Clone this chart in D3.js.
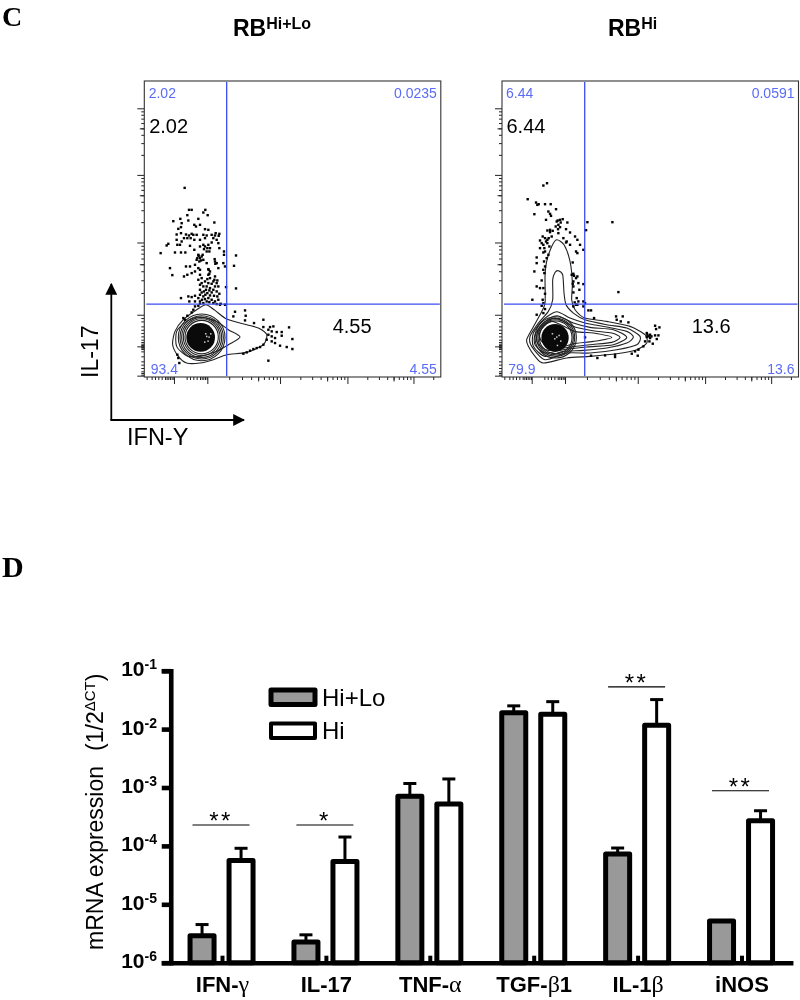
<!DOCTYPE html>
<html><head><meta charset="utf-8">
<script src="https://cdn.jsdelivr.net/npm/d3@7/dist/d3.min.js"></script>
<style>html,body{margin:0;padding:0;background:#fff}svg{display:block;filter:blur(0.35px)}text{font-family:"Liberation Sans",Arial,sans-serif}</style>
</head><body><svg id="c" width="800" height="1000"></svg>
<script>
// ---------- Panel D data ----------
const categories = ["IFN-γ","IL-17","TNF-α","TGF-β1","IL-1β","iNOS"];
const seriesNames = ["Hi+Lo","Hi"];
const hiLoValues = [2.9e-6,2.26e-6,7.1e-4,1.9e-2,7.3e-5,5.2e-6];
const hiLoUpper  = [4.5e-6,3.0e-6,1.17e-3,2.5e-2,9.2e-5,5.2e-6];
const hiValues   = [5.6e-5,5.4e-5,5.2e-4,1.79e-2,1.16e-2,2.7e-4];
const hiUpper    = [9.1e-5,1.42e-4,1.4e-3,2.95e-2,3.2e-2,4.0e-4];
const yTicks = [1e-1,1e-2,1e-3,1e-4,1e-5,1e-6];
const yTickExponents = ["-1","-2","-3","-4","-5","-6"];
const sigCategories = ["IFN-γ","IL-17","IL-1β","iNOS"];
const sigLevels = [2.28e-4,2.28e-4,5.3e-2,8.8e-4];
const sigMarks = ["**","*","**","**"];

// ---------- Panel C data (cytometer channels) ----------
const leftDots = [[254,354],[267,420],[275,420],[316,420],[310,428],[323,436],[262,436],[241,447],[295,447],[220,454],[245,460],[265,452],[343,458],[283,465],[300,465],[288,470],[235,477],[243,472],[243,490],[230,494],[258,494],[267,497],[275,492],[290,495],[315,478],[325,480],[335,495],[347,490],[358,492],[310,495],[320,497],[252,505],[262,505],[272,505],[283,510],[300,510],[315,505],[340,505],[350,510],[230,510],[245,515],[232,525],[240,525],[205,522],[200,527],[182,550],[225,548],[243,548],[256,548],[270,528],[283,540],[300,530],[310,525],[325,525],[335,518],[355,520],[358,535],[312,538],[320,545],[330,535],[372,545],[372,555],[408,557],[295,555],[300,565],[305,560],[290,570],[310,570],[345,575],[350,580],[320,580],[370,580],[375,590],[402,588],[210,595],[217,616],[258,590],[270,590],[285,585],[295,595],[300,600],[325,598],[330,605],[355,595],[252,620],[262,615],[275,610],[285,605],[300,615],[325,615],[330,625],[345,620],[295,630],[305,625],[315,635],[325,640],[340,635],[350,640],[355,650],[300,645],[310,650],[320,650],[330,655],[345,650],[378,652],[408,656],[300,660],[312,665],[322,670],[335,668],[350,665],[358,672],[243,685],[265,680],[275,682],[285,678],[300,675],[310,680],[325,685],[335,690],[345,695],[355,690],[268,695],[285,695],[300,695],[320,695],[360,705],[375,705],[285,710],[295,708],[280,720],[275,728],[250,745],[255,750],[262,738],[405,726],[435,722],[400,740],[437,738],[435,752],[462,760],[490,750],[490,772],[510,772],[520,770],[505,780],[515,785],[530,787],[545,787],[567,773],[505,795],[515,800],[525,805],[545,798],[577,808],[500,810],[515,815],[525,820],[490,825],[480,832],[470,835],[460,838],[450,843],[440,848],[430,852],[505,873],[540,828],[560,832],[577,838],[232,855],[235,865],[238,880],
 [326,600],[328,612],[322,628],[335,642],[343,630],[352,632],[305,640],[318,660],[328,662],[340,660],[305,668],[316,675],[330,677],[342,678],[352,680],[295,685],[306,690],[315,688],[328,697],[340,700],[350,703],[362,702],[300,702],[310,700],[292,565],[298,575],[303,572],[344,568],[346,582],[315,530],[322,535],[328,545],[280,495],[296,558],[308,555],[345,497],[356,498]];
const rightDots = [[160,347],[171,340],[113,388],[138,398],[146,403],[142,405],[165,403],[182,403],[198,418],[133,433],[175,425],[180,432],[183,438],[168,450],[210,450],[218,448],[200,455],[232,458],[205,465],[197,470],[210,472],[180,480],[172,482],[188,483],[228,478],[240,488],[205,490],[158,500],[165,505],[172,510],[185,500],[230,515],[255,500],[262,510],[220,505],[150,512],[155,520],[172,520],[178,530],[150,535],[165,545],[175,555],[140,563],[160,548],[262,550],[270,525],[280,540],[228,518],[240,525],[258,545],[248,578],[140,580],[165,590],[160,600],[133,605],[245,615],[252,618],[262,620],[155,632],[250,635],[265,640],[280,643],[140,650],[150,655],[160,655],[250,650],[268,660],[250,668],[165,672],[260,685],[265,695],[127,690],[155,708],[165,718],[250,710],[258,705],[280,695],[285,700],[160,730],[140,735],[292,457],[367,457],[288,481],[385,667],[295,722],[303,722],[312,745],[378,740],[398,740],[380,750],[392,755],[415,758],[495,768],[508,773],[498,778],[470,790],[480,795],[495,797],[505,797],[470,802],[480,805],[500,808],[465,815],[478,815],[488,822],[460,830],[445,840],[435,845],[425,852],[443,858],[375,855],[375,862],[345,857],[322,865],[303,858],[285,803],
 [203,452],[212,458],[204,478],[180,487],[176,505],[168,515],[160,525],[163,535],[170,565],[162,575],[163,610],[250,612],[258,625],[248,642],[158,690],[160,700],[254,698],[262,705],[280,710],[476,800],[472,795],[484,800]];
const leftContours = [
 [[318,705],[345,722],[380,748],[440,765],[475,775],[500,795],[490,825],[440,848],[380,855],[340,870],[300,880],[260,880],[235,860],[218,825],[225,785],[250,750],[290,720]],
 [[300,742],[350,755],[385,780],[420,802],[385,825],[350,845],[300,860],[260,858],[230,830],[230,785],[260,755]]
];
const rightContours = [
 [[200,510],[222,525],[240,575],[247,640],[245,690],[255,720],[285,745],[350,755],[420,770],[465,795],[470,820],[440,840],[380,852],[300,860],[230,865],[160,880],[135,860],[115,830],[110,810],[125,780],[150,735],[165,700],[165,620],[170,575],[185,530]],
 [[205,603],[218,615],[222,670],[228,705],[250,730],[285,750],[350,765],[410,775],[450,800],[440,825],[380,840],[300,850],[230,850],[165,870],[125,830],[120,800],[145,760],[175,725],[188,690],[188,630],[195,608]],
 [[200,726],[240,745],[285,760],[350,772],[410,785],[430,802],[410,820],[350,835],[280,842],[220,845],[165,860],[130,830],[130,790],[160,750]],
 [[200,738],[250,760],[300,773],[370,780],[410,803],[370,825],[290,832],[220,840],[165,850],[135,825],[135,795],[160,760]],
 [[195,745],[255,772],[310,783],[365,790],[390,803],[365,818],[300,825],[240,832],[175,842],[142,820],[142,790],[165,762]],
 [[255,785],[310,790],[365,803],[310,815],[250,822],[200,835],[155,815],[150,785],[185,755]]
];
// [centre channel x, centre channel y, radius x, radius y]
const leftRings = [[305,803,70,62],[305,803,65,56],[305,803,60,52],[305,802,55,48],[305,802,50,44]];
const rightRings = [[197,803,62,56],[197,803,57,52],[197,803,53,48],[197,803,49,44]];
const leftCore = [302,803,43,41];
const rightCore = [195,804,41,40];
const leftSpecks = [[315,790],[325,800],[312,815],[322,812],[330,790],[318,798]];
const rightSpecks = [[205,795],[192,805],[210,812],[200,825],[185,790],[198,800]];
// axis ticks: fluorescence values on log part, plain channels for the low end
const decades = [100,1000,10000,100000];
const multipliers = [2,3,4,5,6,7,8,9];
const xDecadeChannels = [189,407,609,807];
const yDecadeChannels = [187,404,607,807];
const xLowMajor = [89];
const yLowMajor = [92,4];
const xLowMinor = [7,22,32,42,52,62,67,72,77,82,87,127,137,147,157,167,172,177,182,187];
const yLowMinor = [177,167,152,142,132,122,112,105,100,96,94,90,88,84,77,62,47,37,27,17,12,7];

const svg = d3.select("#c");
const blue = "#3a4cf0", labelBlue = "#5a6cf5";

function txt(g,x,y,s,size,opt={}){
  return g.append("text").attr("x",x).attr("y",y).attr("font-size",size)
    .attr("font-weight",opt.weight||"normal").attr("fill",opt.fill||"#000")
    .attr("text-anchor",opt.anchor||"start").style("font-family",opt.family||null).text(s);
}

// ---------- panel letters & titles ----------
txt(svg,2,25.5,"C",28,{weight:"bold",family:"'Liberation Serif',serif"});
txt(svg,2,577,"D",30,{weight:"bold",family:"'Liberation Serif',serif"});
function title(x,sup){
  const t=svg.append("text").attr("x",x).attr("y",36).attr("font-weight","bold").attr("font-size",23).text("RB");
  t.append("tspan").attr("font-size",16).attr("dy",-7).text(sup);
}
title(233,"Hi+Lo"); title(608,"Hi");

// ---------- flow plots ----------
function flow(opts){
  const W=296.5,H=296;
  const g=svg.append("g").attr("transform",`translate(${opts.left},81)`);
  const x=d3.scaleLinear().domain([opts.ox,opts.ox+889]).range([0,W]);
  const y=d3.scaleLinear().domain([922,33]).range([H,0]);
  const xx=d3.scaleLog().domain(decades).range(xDecadeChannels);
  const yy=d3.scaleLog().domain(decades).range(yDecadeChannels);
  const xMinor=[...xLowMinor,...decades.flatMap(d=>multipliers.filter(m=>d<100000||m<3).map(m=>{
      const v=d*m; return v<=1e5?xx(v):xDecadeChannels[3]+197*Math.log10(m);}))];
  const yMinor=[...yLowMinor,...decades.slice(0,3).flatMap(d=>multipliers.map(m=>yy(d*m)))];
  const xMajor=[...xLowMajor,...xDecadeChannels], yMajor=[...yLowMajor,...yDecadeChannels];
  const xMid=decades.slice(0,3).map(d=>xx(d*5)), yMid=decades.slice(0,3).map(d=>yy(d*5));
  const tick=sel=>sel.call(a=>a.select(".domain").remove()).selectAll("line").attr("stroke","#222").attr("stroke-width",1);
  const chX=d3.scaleLinear().domain([0,889]).range([0,W]);
  const chY=d3.scaleLinear().domain([0,889]).range([H,0]);
  [[xMinor,3],[xMid,4.5],[xMajor,7]].forEach(([v,l])=>{
    g.append("g").attr("transform",`translate(0,${H})`).call(d3.axisBottom(chX).tickValues(v).tickSize(l).tickFormat("")).call(tick);
  });
  [[yMinor,3],[yMid,4.5],[yMajor,7]].forEach(([v,l])=>{
    g.append("g").call(d3.axisLeft(chY).tickValues(v).tickSize(l).tickFormat("")).call(tick);
  });
  g.append("rect").attr("width",W).attr("height",H).attr("fill","none").attr("stroke","#333").attr("stroke-width",1.1);

  const line=d3.line().x(d=>x(d[0])).y(d=>y(d[1])).curve(d3.curveCardinalClosed.tension(.25));
  g.selectAll("path.ct").data(opts.contours).join("path").attr("class","ct").attr("d",line)
    .attr("fill","none").attr("stroke","#222").attr("stroke-width",1.1);
  g.selectAll("ellipse.r").data(opts.rings).join("ellipse").attr("class","r")
    .attr("cx",d=>x(d[0])).attr("cy",d=>y(d[1])).attr("rx",d=>x(opts.ox+d[2])-x(opts.ox)).attr("ry",d=>y(922-d[3])-y(922))
    .attr("fill","none").attr("stroke","#222").attr("stroke-width",1.1);
  g.append("ellipse").datum(opts.core).attr("cx",d=>x(d[0])).attr("cy",d=>y(d[1]))
    .attr("rx",d=>x(opts.ox+d[2])-x(opts.ox)).attr("ry",d=>y(922-d[3])-y(922)).attr("fill","#0a0a0a");
  g.selectAll("rect.sp").data(opts.specks).join("rect").attr("class","sp")
    .attr("x",d=>x(d[0])).attr("y",d=>y(d[1])).attr("width",1.5).attr("height",1.5).attr("fill","#ccc");
  g.selectAll("rect.dot").data(opts.dots).join("rect").attr("class","dot")
    .attr("x",d=>x(d[0])-1.2).attr("y",d=>y(d[1])-1.2).attr("width",2.4).attr("height",2.4).attr("fill","#000");

  g.append("line").attr("x1",x(opts.gateX)).attr("x2",x(opts.gateX)).attr("y1",1).attr("y2",H-1).attr("stroke",blue).attr("stroke-width",1.3);
  g.append("line").attr("x1",2).attr("x2",W-1).attr("y1",y(703)).attr("y2",y(703)).attr("stroke",blue).attr("stroke-width",1.3);

  const t=opts.text;
  txt(g,t.ulX,17,t.ul,14,{fill:labelBlue});
  txt(g,W-4,17,t.ur,14,{fill:labelBlue,anchor:"end"});
  txt(g,t.llX,292.7,t.ll,14,{fill:labelBlue});
  txt(g,W-4,292.7,t.lr,14,{fill:labelBlue,anchor:"end"});
  txt(g,t.ulX+.5,51.7,t.ul,20);
  txt(g,t.bigX,252,t.lr,20);
}
flow({left:144.3,ox:133,gateX:380,dots:leftDots,contours:leftContours,rings:leftRings,core:leftCore,specks:leftSpecks,
  text:{ul:"2.02",ur:"0.0235",ll:"93.4",lr:"4.55",ulX:4.4,llX:6.4,bigX:188.4}});
flow({left:502,ox:36,gateX:284,dots:rightDots,contours:rightContours,rings:rightRings,core:rightCore,specks:rightSpecks,
  text:{ul:"6.44",ur:"0.0591",ll:"79.9",lr:"13.6",ulX:4,llX:6.3,bigX:189.7}});

// arrows
const defs=svg.append("defs");
defs.append("marker").attr("id","ah").attr("viewBox","0 0 10 10").attr("refX",9).attr("refY",5).attr("markerWidth",12).attr("markerHeight",12)
  .attr("markerUnits","userSpaceOnUse").attr("orient","auto").append("path").attr("d","M0,0L10,5L0,10Z").attr("fill","#000");
svg.append("path").attr("d","M111.3,420V284").attr("stroke","#000").attr("stroke-width",1.8).attr("fill","none").attr("marker-end","url(#ah)");
svg.append("path").attr("d","M110.4,420H244").attr("stroke","#000").attr("stroke-width",1.8).attr("fill","none").attr("marker-end","url(#ah)");
txt(svg,0,0,"IL-17",23).attr("transform","translate(98,378) rotate(-90)");
txt(svg,127,445,"IFN-Y",23.5);

// ---------- panel D ----------
const plotLeft=169.55,plotRight=792.95,plotTop=670.7,plotBottom=962.7;
const x0=d3.scaleBand().domain(categories).range([plotLeft,plotRight]);
const x1=d3.scalePoint().domain(seriesNames).range([32.5,71.5]);
const yL=d3.scaleLog().domain([1e-6,1e-1]).range([plotBottom,plotTop]);
const bw=24;
const plot=svg.append("g");

const rows=categories.flatMap((c,i)=>[
  {c,s:"Hi+Lo",v:hiLoValues[i],u:hiLoUpper[i],fill:"#999"},
  {c,s:"Hi",v:hiValues[i],u:hiUpper[i],fill:"#fff"}]);
const cx=d=>x0(d.c)+x1(d.s);
plot.selectAll("line.err").data(rows).join("line").attr("class","err")
  .attr("x1",cx).attr("x2",cx).attr("y1",d=>yL(d.v)).attr("y2",d=>yL(d.u)).attr("stroke","#000").attr("stroke-width",3);
plot.selectAll("line.cap").data(rows.filter(d=>d.u>d.v)).join("line").attr("class","cap")
  .attr("x1",d=>cx(d)-6.5).attr("x2",d=>cx(d)+6.5).attr("y1",d=>yL(d.u)).attr("y2",d=>yL(d.u)).attr("stroke","#000").attr("stroke-width",3);
plot.selectAll("rect.bar").data(rows).join("rect").attr("class","bar")
  .attr("x",d=>cx(d)-bw/2).attr("width",bw).attr("y",d=>yL(d.v)).attr("height",d=>plotBottom-yL(d.v))
  .attr("fill",d=>d.fill).attr("stroke","#000").attr("stroke-width",5).attr("stroke-linejoin","round");

const xAxis=plot.append("g").attr("transform",`translate(0,${plotBottom})`)
  .call(d3.axisBottom(x0).tickSizeInner(-7).tickSizeOuter(0).tickFormat(""));
xAxis.select(".domain").attr("stroke","#000").attr("stroke-width",4.6);
xAxis.selectAll(".tick line").attr("stroke","#000").attr("stroke-width",4).attr("transform","translate(1,0)");
categories.forEach(c=>{
  const m=c.match(/^(.*?)([γαβ])(.*)$/);
  const t=plot.append("text").attr("x",x0(c)+x0.bandwidth()/2+1).attr("y",991.5).attr("text-anchor","middle")
    .attr("font-size",22).attr("font-weight","bold");
  if(m){t.append("tspan").text(m[1]);
    t.append("tspan").style("font-family","'Liberation Serif',serif").attr("font-weight","normal").attr("font-size",24).text(m[2]);
    t.append("tspan").text(m[3]);}
  else t.text(c);
});

const yAxis=plot.append("g").attr("transform",`translate(${plotLeft+1.2},0)`)
  .call(d3.axisLeft(yL).tickValues(yTicks).tickSize(9).tickFormat(""));
yAxis.select(".domain").attr("stroke","#000").attr("stroke-width",4.6);
yAxis.selectAll(".tick line").attr("stroke","#000").attr("stroke-width",4.6);
yTicks.forEach((v,i)=>{
  const t=plot.append("text").attr("x",157).attr("y",yL(v)+5.5).attr("text-anchor","end").attr("font-weight","bold").attr("font-size",21);
  t.append("tspan").text("10");
  t.append("tspan").attr("font-size",14).attr("dy",-7).text(yTickExponents[i]);
});
const yTitle=svg.append("text").attr("transform","translate(103,950) rotate(-90)").attr("font-size",23);
yTitle.append("tspan").text("mRNA expression");
yTitle.append("tspan").attr("dx",15).text("(1/2");
yTitle.append("tspan").attr("font-size",15).attr("dy",-8).text("ΔCT");
yTitle.append("tspan").attr("dy",8).text(")");

// significance
sigCategories.forEach((c,i)=>{
  const mid=x0(c)+x0.bandwidth()/2-.5, yy=yL(sigLevels[i]);
  plot.append("line").attr("x1",mid-28.5).attr("x2",mid+28.5).attr("y1",yy).attr("y2",yy).attr("stroke","#000").attr("stroke-width",1.2);
  txt(plot,mid,yy+4,sigMarks[i],24,{anchor:"middle"}).attr("letter-spacing",2.5);
});

// legend
const legend=svg.append("g");
seriesNames.forEach((s,i)=>{
  const yTop=690+i*33.5;
  legend.append("rect").attr("x",271).attr("y",yTop).attr("width",44).attr("height",14.5)
    .attr("fill",i?"#fff":"#999").attr("stroke","#000").attr("stroke-width",i?4:5).attr("stroke-linejoin","round");
  txt(legend,322,yTop+15.5,s,24);
});
</script></body></html>
